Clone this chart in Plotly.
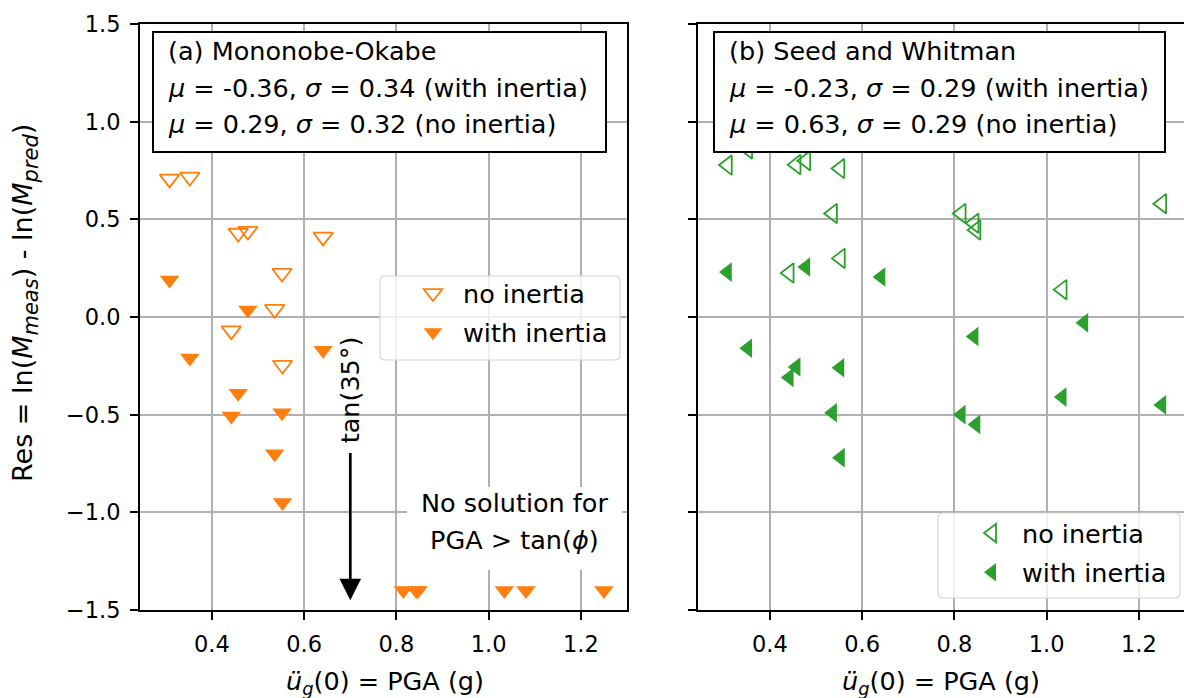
import plotly.graph_objects as go

# Peak ground acceleration of each record (g)
pga = [0.308, 0.352, 0.442, 0.457, 0.478, 0.536, 0.552, 0.553, 0.641,
       0.815, 0.843, 0.847, 1.034, 1.081, 1.250]

# Residuals, Mononobe-Okabe (records above tan(phi) have no solution and sit at -1.4)
mo_no_inertia = [0.707, 0.717, -0.07, 0.43, 0.44, 0.04, 0.225, -0.246, 0.41,
                 None, None, None, None, None, None]
mo_with_inertia = [0.19, -0.21, -0.507, -0.39, 0.036, -0.70, -0.49, -0.95, -0.17,
                   -1.4, -1.4, -1.4, -1.4, -1.4, -1.4]

# Residuals, Seed and Whitman
sw_no_inertia = [0.778, 0.86, 0.225, 0.78, 0.80, 0.53, 0.76, 0.30, None,
                 0.53, 0.48, 0.445, 0.14, None, 0.58]
sw_with_inertia = [0.23, -0.16, -0.31, -0.256, 0.256, -0.49, -0.26, -0.72, 0.205,
                   -0.50, -0.10, -0.55, -0.41, -0.03, -0.45]

x_ticks = [0.4, 0.6, 0.8, 1.0, 1.2]
y_ticks = [-1.5, -1.0, -0.5, 0.0, 0.5, 1.0, 1.5]

box_a = ["(a) Mononobe-Okabe",
         "<i>μ</i> = -0.36, <i>σ</i> = 0.34 (with inertia)",
         "<i>μ</i> = 0.29, <i>σ</i> = 0.32 (no inertia)"]
box_b = ["(b) Seed and Whitman",
         "<i>μ</i> = -0.23, <i>σ</i> = 0.29 (with inertia)",
         "<i>μ</i> = 0.63, <i>σ</i> = 0.29 (no inertia)"]

ORANGE = "#ff7f0e"
GREEN = "#2ca02c"
FONT = "DejaVu Sans"
W, H = 1184, 698
TXT = 25.5
TICK = 22.5
MSIZE = 17


def px(x):
    return x / W


def py(y):
    return 1 - y / H


def rounded_rect(x0, y0, x1, y1, r=5):
    """SVG path (paper fractions) of a rectangle with rounded corners, given in pixels."""
    pts = [
        f"M{px(x0 + r)},{py(y0)}", f"L{px(x1 - r)},{py(y0)}",
        f"Q{px(x1)},{py(y0)} {px(x1)},{py(y0 + r)}", f"L{px(x1)},{py(y1 - r)}",
        f"Q{px(x1)},{py(y1)} {px(x1 - r)},{py(y1)}", f"L{px(x0 + r)},{py(y1)}",
        f"Q{px(x0)},{py(y1)} {px(x0)},{py(y1 - r)}", f"L{px(x0)},{py(y0 + r)}",
        f"Q{px(x0)},{py(y0)} {px(x0 + r)},{py(y0)}", "Z",
    ]
    return " ".join(pts)


fig = go.Figure()

fig.add_trace(go.Scatter(
    x=pga, y=mo_no_inertia, mode="markers", name="no inertia",
    marker=dict(symbol="triangle-down-open", size=MSIZE, color=ORANGE, line=dict(width=1.8)),
    xaxis="x", yaxis="y", legend="legend", legendgroup="a1"))
fig.add_trace(go.Scatter(
    x=pga, y=mo_with_inertia, mode="markers", name="with inertia",
    marker=dict(symbol="triangle-down", size=MSIZE, color=ORANGE, line=dict(width=0)),
    xaxis="x", yaxis="y", legend="legend", legendgroup="a2"))
fig.add_trace(go.Scatter(
    x=pga, y=sw_no_inertia, mode="markers", name="no inertia",
    marker=dict(symbol="triangle-left-open", size=MSIZE, color=GREEN, line=dict(width=1.8)),
    xaxis="x2", yaxis="y2", legend="legend2", legendgroup="b1"))
fig.add_trace(go.Scatter(
    x=pga, y=sw_with_inertia, mode="markers", name="with inertia",
    marker=dict(symbol="triangle-left", size=MSIZE, color=GREEN, line=dict(width=0)),
    xaxis="x2", yaxis="y2", legend="legend2", legendgroup="b2"))

axis_common = dict(
    showgrid=True, gridcolor="#b0b0b0", gridwidth=1.6,
    showline=True, mirror=True, linecolor="black", linewidth=1.8,
    ticks="outside", ticklen=8, tickwidth=1.6, tickcolor="black",
    tickfont=dict(family=FONT, size=TICK, color="black"),
    zeroline=False, tickformat=".1f", ticklabelstandoff=5, automargin=False,
)

legend_common = dict(
    xanchor="left", yanchor="top", bgcolor="rgba(0,0,0,0)", borderwidth=0,
    font=dict(family=FONT, size=TXT, color="black"), itemwidth=50, tracegroupgap=3,
)

y_dom = [py(610), py(24)]
fig.update_layout(
    width=W, height=H,
    margin=dict(l=0, r=0, t=0, b=0, autoexpand=False),
    paper_bgcolor="white", plot_bgcolor="white",
    font=dict(family=FONT, size=TXT, color="black"),
    xaxis=dict(domain=[px(140), px(627)], range=[0.244, 1.300], tickvals=x_ticks,
               anchor="y", **axis_common),
    yaxis=dict(domain=y_dom, range=[-1.5, 1.5], tickvals=y_ticks, anchor="x", **axis_common),
    xaxis2=dict(domain=[px(698), 1.0], range=[0.244, 1.298], tickvals=x_ticks,
                anchor="y2", **axis_common),
    yaxis2=dict(domain=y_dom, range=[-1.5, 1.5], tickvals=y_ticks, anchor="x2",
                showticklabels=False, **axis_common),
    legend=dict(x=px(403), y=py(270), **legend_common),
    legend2=dict(x=px(962), y=py(510), **legend_common),
)

shapes = []
annotations = []

# Legend frames
for x0, y0, x1, y1 in [(380, 276, 620, 360), (938, 513, 1180, 598)]:
    shapes.append(dict(type="path", xref="paper", yref="paper",
                       path=rounded_rect(x0, y0, x1, y1),
                       line=dict(color="#d6d6d6", width=1.2),
                       fillcolor="rgba(255,255,255,0.8)", layer="above"))

# Framed text boxes with statistics
for (x0, x1, tx), lines in [((153, 606, 166), box_a), ((714, 1165, 727), box_b)]:
    shapes.append(dict(type="rect", xref="paper", yref="paper",
                       x0=px(x0), x1=px(x1), y0=py(152), y1=py(32),
                       line=dict(color="black", width=2), fillcolor="white", layer="above"))
    for yc, line in zip([51, 88, 124], lines):
        annotations.append(dict(text=line, xref="paper", yref="paper", x=px(tx), y=py(yc),
                                xanchor="left", yanchor="middle", showarrow=False,
                                font=dict(family=FONT, size=TXT, color="black")))

# "No solution" note on a white background
shapes.append(dict(type="rect", xref="paper", yref="paper",
                   x0=px(407), x1=px(622), y0=py(570), y1=py(487),
                   line=dict(width=0), fillcolor="white", layer="above"))
for yc, line in [(503, "No solution for"), (540, "PGA &gt; tan(<i>ϕ</i>)")]:
    annotations.append(dict(text=line, xref="paper", yref="paper", x=px(514), y=py(yc),
                            xanchor="center", yanchor="middle", showarrow=False,
                            font=dict(family=FONT, size=TXT, color="black")))

# Arrow marking tan(35°)
annotations.append(dict(
    text="tan(35°)", textangle=-90, x=0.7, y=-1.45, xref="x", yref="y",
    ax=0.7, ay=-0.374, axref="x", ayref="y", showarrow=True,
    arrowhead=2, arrowsize=1.6, arrowwidth=2.7, arrowcolor="black",
    borderpad=9, standoff=0, font=dict(family=FONT, size=TXT, color="black")))

# Axis labels
xlabel = "<i>ü</i><sub><i>g</i></sub>(0) = PGA (g)"
for xc in (385, 941):
    annotations.append(dict(text=xlabel, xref="paper", yref="paper", x=px(xc), y=py(682),
                            xanchor="center", yanchor="middle", showarrow=False,
                            font=dict(family=FONT, size=TXT, color="black")))
sub_style = "font-size:21px"
annotations.append(dict(
    text=(f"Res = ln(<i>M</i><sub><span style='{sub_style}'><i>meas</i></span></sub>)"
          f" - ln(<i>M</i><sub><span style='{sub_style}'><i>pred</i></span></sub>)"),
    textangle=-90, xref="paper", yref="paper", x=px(25), y=py(303),
    xanchor="center", yanchor="middle", showarrow=False,
    font=dict(family=FONT, size=27, color="black")))

fig.update_layout(shapes=shapes, annotations=annotations)
fig.write_html("out.html")
